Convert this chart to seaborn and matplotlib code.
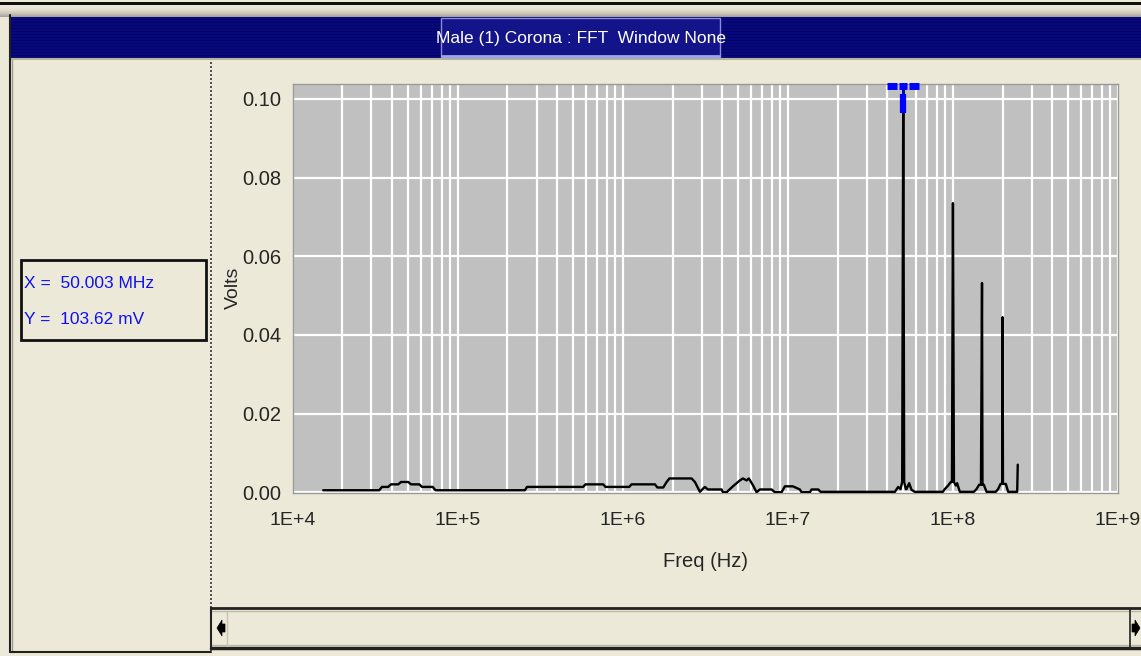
import numpy as np
import matplotlib
matplotlib.use("Agg")
import matplotlib.pyplot as plt
import matplotlib.ticker as mticker
from matplotlib.patches import Rectangle, Polygon
from matplotlib.lines import Line2D
import matplotlib.transforms as mtransforms
import seaborn as sns

# ---- spectrum trace (frequency in Hz, amplitude in volts) ----
freq_hz = [
    1.53e4, 3.345e4, 3.474e4, 3.79e4, 3.94e4, 4.36e4, 4.53e4, 5.01e4, 5.21e4, 5.85e4,
    6.07e4, 7.05e4, 7.33e4, 2.55e5, 2.63e5, 5.75e5, 5.94e5, 7.61e5, 7.85e5, 1.093e6,
    1.128e6, 1.565e6, 1.62e6, 1.757e6, 1.842e6, 1.915e6, 2.61e6, 2.734e6, 2.93e6, 3.14e6,
    3.277e6, 3.966e6, 4.04e6, 4.254e6, 4.645e6, 5.12e6, 5.34e6, 5.62e6, 5.80e6, 6.14e6,
    6.46e6, 6.77e6, 7.97e6, 8.34e6, 9.16e6, 9.59e6, 1.072e7, 1.182e7, 1.21e7, 1.36e7,
    1.392e7, 1.526e7, 1.578e7,
    4.448e7, 4.658e7, 4.816e7, 4.925e7, 5.0003e7, 5.064e7, 5.185e7, 5.236e7, 5.428e7, 5.612e7, 5.877e7,
    8.69e7, 8.93e7, 9.35e7, 9.71e7, 9.86e7, 1.0e8, 1.014e8, 1.041e8, 1.060e8, 1.101e8,
    1.339e8, 1.390e8, 1.441e8, 1.478e8, 1.50e8, 1.51e8, 1.539e8, 1.598e8,
    1.819e8, 1.878e8, 1.942e8, 1.99e8, 2.0e8, 2.01e8, 2.092e8, 2.160e8,
    2.45e8, 2.47e8,
]
volts = [
    0.0005, 0.0005, 0.00135, 0.00135, 0.0020, 0.0020, 0.0026, 0.0026, 0.0020, 0.0020,
    0.00135, 0.00135, 0.0005, 0.0005, 0.00135, 0.00135, 0.0020, 0.0020, 0.00135, 0.00135,
    0.0020, 0.0020, 0.0012, 0.0012, 0.0026, 0.0035, 0.0035, 0.0026, 0.0001, 0.00135,
    0.0007, 0.0007, 0.0000, 0.0000, 0.0015, 0.0030, 0.0035, 0.0030, 0.0035, 0.0018,
    0.0000, 0.0007, 0.0007, 0.0000, 0.0000, 0.0015, 0.0015, 0.0007, 0.0000, 0.0000,
    0.0007, 0.0007, 0.0001,
    0.0001, 0.00135, 0.0008, 0.0026, 0.10362, 0.0026, 0.0008, 0.0008, 0.0023, 0.0006, 0.0001,
    0.0001, 0.0008, 0.0017, 0.0026, 0.0026, 0.0735, 0.0026, 0.0017, 0.0023, 0.0001,
    0.0001, 0.0008, 0.0019, 0.0019, 0.0532, 0.0019, 0.0019, 0.0001,
    0.0001, 0.0008, 0.0021, 0.0021, 0.0445, 0.0021, 0.0021, 0.0001,
    0.0001, 0.0070,
]

# cursor readout
cursor_x_hz = 50.003e6
cursor_y_v = 0.10362
readout_lines = ["X =  50.003 MHz", "Y =  103.62 mV"]

title = "Male (1) Corona : FFT  Window None"
x_label = "Freq (Hz)"
y_label = "Volts"
y_ticks = [0.00, 0.02, 0.04, 0.06, 0.08, 0.10]
x_decades = [4, 5, 6, 7, 8, 9]

W, H = 1141, 656
BG = "#ECE9D8"
NAVY = "#07077E"
FONT = ["Liberation Sans", "DejaVu Sans"]

sns.set_style("white")
plt.rcParams["font.family"] = FONT

fig = plt.figure(figsize=(W / 100, H / 100), dpi=100, facecolor=BG)


def fx(x):
    return x / W


def fy(y):
    return 1 - y / H


def frect(x0, y0, x1, y1, **kw):
    fig.patches.append(Rectangle((fx(x0), fy(y1)), fx(x1) - fx(x0), fy(y0) - fy(y1),
                                 transform=fig.transFigure, figure=fig, **kw))


def fline(xs, ys, **kw):
    fig.lines.append(Line2D([fx(v) for v in xs], [fy(v) for v in ys],
                            transform=fig.transFigure, figure=fig, **kw))


# ---- window chrome ----
# top frame strip with gradient
grad = np.linspace(0, 1, 12)
for i, g in enumerate(grad):
    c = np.array([0.93, 0.91, 0.85]) * (1 - 0.3 * g ** 2)
    frect(0, 5 + i, W, 6 + i, facecolor=c, edgecolor="none", zorder=1)
frect(0, 2, W, 5, facecolor="#111111", edgecolor="none", zorder=1)
# title bar
frect(10, 17, W, 58, facecolor=NAVY, edgecolor="none", zorder=1)
for yy in range(19, 57, 3):
    fline([10, W], [yy, yy], color="#03035c", lw=0.5, zorder=1.5)
frect(441, 18, 720, 57, facecolor="#14148a", edgecolor="#8a8ad8", lw=1.0, zorder=2)
fline([442, 719], [56, 56], color="#9fa6e8", lw=2, zorder=2.5)
fig.text(fx(581), fy(39), title, color="white", fontsize=12.5, ha="center", va="center",
         family=FONT, zorder=3)
fline([10, W], [59, 59], color="#b8b49c", lw=1.5, zorder=2)
# left outer border
fline([10, 10], [15, 652], color="#222222", lw=1.5, zorder=2)
fline([12, 12], [60, 652], color="#a09c88", lw=1.0, zorder=2)
fline([10, 211], [652, 652], color="#222222", lw=1.5, zorder=2)
# dotted separator
fline([211, 211], [62, 606], color="#333333", lw=1.2, ls=(0, (1.2, 1.2)), zorder=2)

# readout box
frect(21, 260, 206, 340, facecolor=BG, edgecolor="#111111", lw=2, zorder=2)
fig.text(fx(24), fy(283), readout_lines[0], color="#1010F0", fontsize=12.5,
         ha="left", va="center", family=FONT, zorder=3)
fig.text(fx(24), fy(320), readout_lines[1], color="#1010F0", fontsize=12.5,
         ha="left", va="center", family=FONT, zorder=3)

# scrollbar
frect(211, 607, W, 651, facecolor=BG, edgecolor="none", zorder=1)
fline([211, W], [608, 608], color="#222222", lw=2.0, zorder=2)
fline([211, W], [611, 611], color="#bdb9a3", lw=1.0, zorder=2)
fline([211, W], [648, 648], color="#222222", lw=2.5, zorder=2)
fline([211, W], [645, 645], color="#bdb9a3", lw=1.0, zorder=2)
fline([211, 211], [607, 650], color="#222222", lw=1.5, zorder=2)
fline([227, 227], [611, 646], color="#c8c4ae", lw=1.0, zorder=2)
fline([1130, 1130], [609, 648], color="#222222", lw=1.2, zorder=2)
for pts in ([(217, 628), (222, 620), (222, 624), (225, 624), (225, 632), (222, 632), (222, 636)],
            [(1140, 628), (1135, 620), (1135, 624), (1132, 624), (1132, 632), (1135, 632), (1135, 636)]):
    fig.patches.append(Polygon([(fx(a), fy(b)) for a, b in pts], closed=True,
                               transform=fig.transFigure, figure=fig,
                               facecolor="black", edgecolor="black", lw=0.5, zorder=3))

# ---- plot area ----
ax_l, ax_r, ax_t, ax_b = 292.7, 1118, 84, 493
ax = fig.add_axes([fx(ax_l), fy(ax_b), fx(ax_r) - fx(ax_l), fy(ax_t) - fy(ax_b)])
ax.set_facecolor("#C0C0C0")

sns.lineplot(x=freq_hz, y=volts, ax=ax, color="black", lw=1.7,
             sort=False, estimator=None, zorder=3)

ax.set_xscale("log")
ax.set_xlim(1e4, 1e9)
ax.set_ylim(-0.0002, 0.1038)

ax.xaxis.set_major_locator(mticker.FixedLocator([10.0 ** d for d in x_decades]))
ax.xaxis.set_major_formatter(mticker.FixedFormatter([f"1E+{d}" for d in x_decades]))
ax.xaxis.set_minor_locator(mticker.LogLocator(base=10, subs=np.arange(2, 10), numticks=50))
ax.xaxis.set_minor_formatter(mticker.NullFormatter())
ax.set_yticks(y_ticks)
ax.set_yticklabels([f"{v:.2f}" for v in y_ticks])

ax.grid(True, which="major", color="white", lw=1.6, zorder=1)
ax.grid(True, which="minor", axis="x", color="white", lw=1.6, zorder=1)
ax.set_axisbelow(True)

ax.tick_params(axis="y", which="major", direction="out", length=7, width=1.8,
               color="black", labelsize=14.5, pad=1)
ax.tick_params(axis="x", which="major", direction="out", length=12, width=1.0,
               color="black", labelsize=14, pad=2)
ax.tick_params(axis="x", which="minor", length=0)

for s in ax.spines.values():
    s.set_color("#9a9a9a")
    s.set_linewidth(1.0)

ax.set_xlabel(x_label, fontsize=14.5, labelpad=16)
ax.set_ylabel(y_label, fontsize=14)
ax.yaxis.set_label_coords((242 - ax_l) / (ax_r - ax_l), (ax_b - 288) / (ax_b - ax_t))

# cursor marker above the selected peak
trans = mtransforms.blended_transform_factory(ax.transData, ax.transAxes)
k = 10 ** (1 / 165.1)  # one pixel in log-frequency units
bar_y = 1.0 - 2 / (ax_b - ax_t)
for a, b in ((-16, -6), (-4, 3.5), (5.5, 16)):
    ax.plot([cursor_x_hz * k ** a, cursor_x_hz * k ** b], [bar_y, bar_y], color="#0000FF",
            lw=5, solid_capstyle="butt", transform=trans, clip_on=False, zorder=5)
ax.plot([cursor_x_hz, cursor_x_hz], [bar_y, 1.0 - 10 / (ax_b - ax_t)], color="#0000FF",
        lw=1.2, transform=trans, clip_on=False, zorder=5)
ax.plot([cursor_x_hz, cursor_x_hz], [1.0 - 10 / (ax_b - ax_t), 1.0 - 29 / (ax_b - ax_t)],
        color="#0000FF", lw=4.5, solid_capstyle="butt", transform=trans, clip_on=False, zorder=5)

fig.savefig("out.png", dpi=100, facecolor=BG)
